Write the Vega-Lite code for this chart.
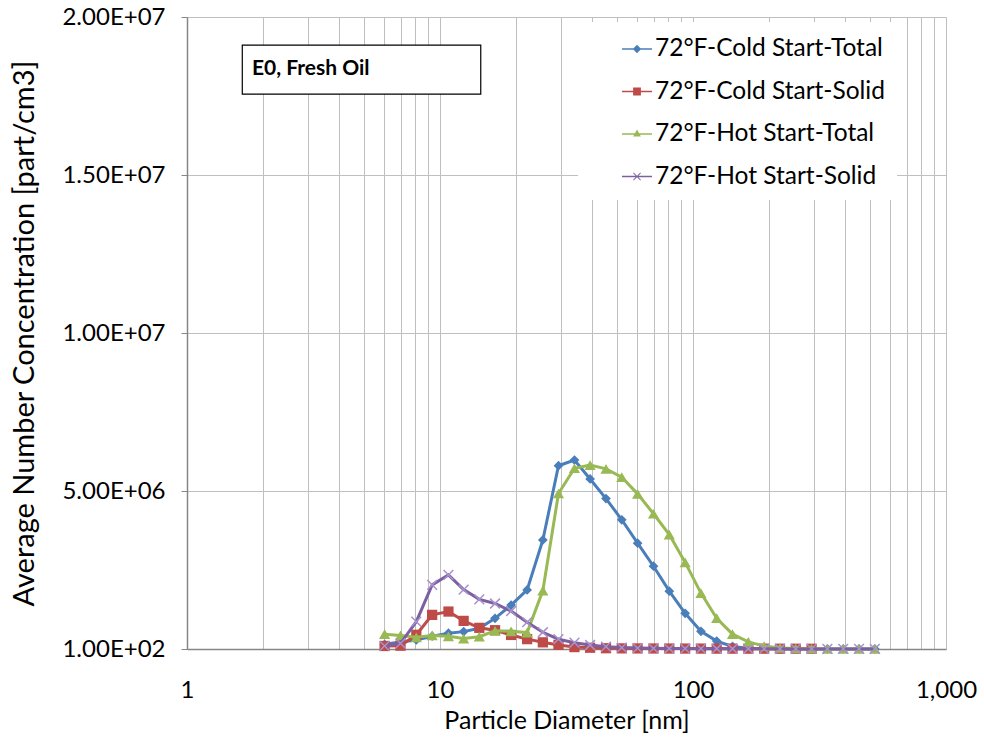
{
  "$schema": "https://vega.github.io/schema/vega-lite/v6.json",
  "width": 759,
  "height": 632,
  "autosize": {"type": "none"},
  "padding": {"left": 187, "top": 17, "right": 38, "bottom": 92},
  "background": "white",
  "config": {"view": {"stroke": null}, "font": "Lato"},
  "data": {
    "values": [
      {"d": 6.04, "ct": 150000, "cs": 95000, "ht": 470000, "hs": 100000},
      {"d": 6.98, "ct": 220000, "cs": 105000, "ht": 430000, "hs": 180000},
      {"d": 8.06, "ct": 285000, "cs": 450000, "ht": 370000, "hs": 865000},
      {"d": 9.31, "ct": 405000, "cs": 1080000, "ht": 430000, "hs": 2030000},
      {"d": 10.8, "ct": 500000, "cs": 1185000, "ht": 400000, "hs": 2345000},
      {"d": 12.4, "ct": 550000, "cs": 890000, "ht": 330000, "hs": 1880000},
      {"d": 14.3, "ct": 654000, "cs": 670000, "ht": 390000, "hs": 1570000},
      {"d": 16.5, "ct": 970000, "cs": 595000, "ht": 575000, "hs": 1440000},
      {"d": 19.1, "ct": 1390000, "cs": 445000, "ht": 560000, "hs": 1200000},
      {"d": 22.1, "ct": 1870000, "cs": 312000, "ht": 520000, "hs": 850000},
      {"d": 25.5, "ct": 3450000, "cs": 211000, "ht": 1850000, "hs": 530000},
      {"d": 29.4, "ct": 5800000, "cs": 130000, "ht": 4920000, "hs": 310000},
      {"d": 34.0, "ct": 5980000, "cs": 60000, "ht": 5720000, "hs": 200000},
      {"d": 39.2, "ct": 5380000, "cs": 40000, "ht": 5820000, "hs": 127000},
      {"d": 45.3, "ct": 4760000, "cs": 25000, "ht": 5700000, "hs": 75000},
      {"d": 52.3, "ct": 4090000, "cs": 20000, "ht": 5440000, "hs": 45000},
      {"d": 60.4, "ct": 3350000, "cs": 18000, "ht": 4910000, "hs": 28000},
      {"d": 69.8, "ct": 2620000, "cs": 16000, "ht": 4280000, "hs": 20000},
      {"d": 80.6, "ct": 1830000, "cs": 15000, "ht": 3620000, "hs": 15000},
      {"d": 93.1, "ct": 1130000, "cs": 14000, "ht": 2740000, "hs": 12000},
      {"d": 107.5, "ct": 560000, "cs": 13000, "ht": 1770000, "hs": 10000},
      {"d": 124.1, "ct": 250000, "cs": 12000, "ht": 975000, "hs": 9000},
      {"d": 143.3, "ct": 80000, "cs": 11000, "ht": 470000, "hs": 8000},
      {"d": 165.5, "ct": 25000, "cs": 10000, "ht": 225000, "hs": 7000},
      {"d": 191.1, "ct": 8000, "cs": 10000, "ht": 95000, "hs": 6000},
      {"d": 220.7, "ct": 3000, "cs": 9000, "ht": 35000, "hs": 5000},
      {"d": 254.8, "ct": 1500, "cs": 9000, "ht": 15000, "hs": 4000},
      {"d": 294.3, "ct": 800, "cs": 8000, "ht": 7000, "hs": 3500},
      {"d": 339.8, "ct": 500, "cs": null, "ht": 4000, "hs": 3000},
      {"d": 392.4, "ct": 400, "cs": null, "ht": 2500, "hs": 2500},
      {"d": 453.2, "ct": 300, "cs": null, "ht": 2000, "hs": 2000},
      {"d": 523.3, "ct": 300, "cs": null, "ht": 1500, "hs": 1800}
    ]
  },
  "encoding": {
    "x": {
      "field": "d",
      "type": "quantitative",
      "scale": {"type": "log", "domain": [1, 1000], "nice": false},
      "axis": {
        "title": "Particle Diameter [nm]",
        "values": [1, 2, 3, 4, 5, 6, 7, 8, 9, 10, 20, 30, 40, 50, 60, 70, 80, 90, 100, 200, 300, 400, 500, 600, 700, 800, 900, 1000],
        "labelExpr": "indexof([1, 10, 100, 1000], datum.value) >= 0 ? format(datum.value, ',') : ''",
        "grid": true,
        "gridColor": "#bfbfbf",
        "gridWidth": 1,
        "ticks": false,
        "domainColor": "#868686",
        "domainWidth": 1.5,
        "labelFont": "Lato",
        "labelFontSize": 24,
        "labelColor": "black",
        "labelPadding": 29,
        "labelFlush": false,
        "labelOverlap": false,
        "titleFont": "Lato",
        "titleFontSize": 25,
        "titleFontWeight": "normal",
        "titleColor": "black",
        "titlePadding": 6
      }
    }
  },
  "layer": [
    {
      "mark": {"type": "line", "color": "#4a7ebb", "strokeWidth": 3},
      "encoding": {
        "y": {
          "field": "ct",
          "type": "quantitative",
          "title": "Average Number Concentration [part/cm3]",
          "scale": {"domain": [100, 20000000], "nice": false, "zero": false},
          "axis": {
            "values": [100, 5000000, 10000000, 15000000, 20000000],
            "labelExpr": "replace(format(datum.value, '.2e'), 'e+', 'E+0')",
            "grid": true,
            "gridColor": "#bfbfbf",
            "gridWidth": 1,
            "tickColor": "#868686",
            "tickSize": 6,
            "domainColor": "#868686",
            "domainWidth": 1.5,
            "labelFont": "Lato",
            "labelFontSize": 24,
            "labelColor": "black",
            "labelPadding": 16,
            "labelFlush": false,
            "labelOverlap": false,
            "titleFont": "Lato",
            "titleFontSize": 29,
            "titleFontWeight": "normal",
            "titleColor": "black",
            "titlePadding": 22
          }
        }
      }
    },
    {
      "mark": {"type": "point", "shape": "diamond", "filled": true, "color": "#4a7ebb", "size": 95, "opacity": 1},
      "encoding": {"y": {"field": "ct", "type": "quantitative", "title": "Average Number Concentration [part/cm3]"}}
    },
    {
      "mark": {"type": "line", "color": "#be4b48", "strokeWidth": 3},
      "encoding": {"y": {"field": "cs", "type": "quantitative", "title": "Average Number Concentration [part/cm3]"}}
    },
    {
      "mark": {"type": "point", "shape": "square", "filled": true, "color": "#be4b48", "size": 105, "opacity": 1},
      "encoding": {"y": {"field": "cs", "type": "quantitative", "title": "Average Number Concentration [part/cm3]"}}
    },
    {
      "mark": {"type": "line", "color": "#98b954", "strokeWidth": 3},
      "encoding": {"y": {"field": "ht", "type": "quantitative", "title": "Average Number Concentration [part/cm3]"}}
    },
    {
      "mark": {"type": "point", "shape": "triangle-up", "filled": true, "color": "#98b954", "size": 125, "opacity": 1},
      "encoding": {"y": {"field": "ht", "type": "quantitative", "title": "Average Number Concentration [part/cm3]"}}
    },
    {
      "mark": {"type": "line", "color": "#7d60a0", "strokeWidth": 3},
      "encoding": {"y": {"field": "hs", "type": "quantitative", "title": "Average Number Concentration [part/cm3]"}}
    },
    {
      "mark": {"type": "point", "shape": "M-1,-1L1,1M-1,1L1,-1", "filled": false, "stroke": "#a792cc", "strokeWidth": 1.5, "size": 95, "opacity": 1},
      "encoding": {"y": {"field": "hs", "type": "quantitative", "title": "Average Number Concentration [part/cm3]"}}
    },
    {
      "data": {"values": [{"d": 1.654, "d2": 14.49, "v": 19110000, "v2": 17560000}]},
      "mark": {"type": "rect", "fill": "white", "stroke": "black", "strokeWidth": 1.2},
      "encoding": {
        "x2": {"field": "d2"},
        "y": {"field": "v", "type": "quantitative", "title": "Average Number Concentration [part/cm3]"},
        "y2": {"field": "v2"}
      }
    },
    {
      "data": {"values": [{"d": 1.807, "v": 18370000, "label": "E0, Fresh Oil"}]},
      "mark": {"type": "text", "align": "left", "baseline": "middle", "font": "Lato", "fontSize": 21, "fontWeight": "bold", "color": "black"},
      "encoding": {
        "y": {"field": "v", "type": "quantitative", "title": "Average Number Concentration [part/cm3]"},
        "text": {"field": "label"}
      }
    },
    {
      "transform": [{"filter": "false"}],
      "mark": {"type": "point", "filled": true, "opacity": 1},
      "encoding": {
        "color": {
          "field": "series",
          "type": "nominal",
          "scale": {
            "domain": ["72°F-Cold Start-Total", "72°F-Cold Start-Solid", "72°F-Hot Start-Total", "72°F-Hot Start-Solid"],
            "range": ["#4a7ebb", "#be4b48", "#98b954", "#7d60a0"]
          },
          "legend": {
            "title": null,
            "orient": "none",
            "legendX": 391,
            "legendY": 5,
            "fillColor": "white",
            "padding": 12,
            "rowPadding": 15.5,
            "symbolSize": 900,
            "symbolStrokeWidth": 0,
            "symbolOffset": 32,
            "labelOffset": 3,
            "labelFont": "Lato",
            "labelFontSize": 24.5,
            "labelColor": "black",
            "labelLimit": 0
          }
        },
        "shape": {
          "field": "series",
          "type": "nominal",
          "scale": {
            "domain": ["72°F-Cold Start-Total", "72°F-Cold Start-Solid", "72°F-Hot Start-Total", "72°F-Hot Start-Solid"],
            "range": [
              "M-1,-0.05H1V0.05H-1Z M0,-0.28L0.28,0L0,0.28L-0.28,0Z",
              "M-1,-0.05H1V0.05H-1Z M-0.26,-0.26H0.26V0.26H-0.26Z",
              "M-1,-0.05H1V0.05H-1Z M0,-0.3L0.26,0.17L-0.26,0.17Z",
              "M-1,-0.05H1V0.05H-1Z M-0.26,-0.22L-0.22,-0.26L0.26,0.22L0.22,0.26Z M0.22,-0.26L0.26,-0.22L-0.22,0.26L-0.26,0.22Z"
            ]
          }
        }
      }
    }
  ]
}
